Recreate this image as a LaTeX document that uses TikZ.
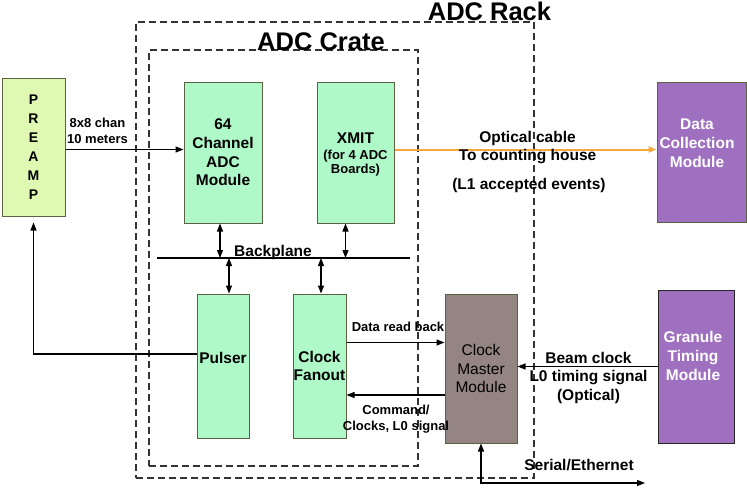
\documentclass[tikz,border=0pt]{standalone}
\usepackage{fontspec}
\setmainfont{Liberation Sans}
\usepackage{xcolor}
\usepackage{tikz}
\usetikzlibrary{positioning, arrows.meta, calc}

\definecolor{modgreen}{HTML}{AFF8C8}
\definecolor{preampfill}{HTML}{E0F9B2}
\definecolor{modpurple}{HTML}{A070C0}
\definecolor{clockgray}{HTML}{948582}
\definecolor{edgeolive}{HTML}{5A6240}
\definecolor{optorange}{HTML}{F5A840}

\begin{document}
\begin{tikzpicture}[
    x=1pt, y=-1pt,
    every node/.style={font=\fontsize{15.5}{18.7}\selectfont\bfseries, align=center, inner sep=0pt},
    block/.style={draw=edgeolive, line width=1pt, fill=#1},
    frame/.style={draw=black!80, line width=1.3pt, dash pattern=on 7pt off 4pt},
    smalltxt/.style={font=\fontsize{13}{15.5}\selectfont\bfseries},
    title/.style={font=\fontsize{25.5}{30}\selectfont\bfseries},
    arrow/.style={-{Triangle[length=8pt, width=6pt]}, line width=1.2pt},
    dblarrow/.style={{Triangle[length=8pt, width=6pt]}-{Triangle[length=8pt, width=6pt]}, line width=1.2pt},
  ]
  \useasboundingbox (0,0) rectangle (747,488);

  % ---- Rack and crate ----
  \node[frame, minimum width=398pt, minimum height=456pt] (rack) at (335,250) {};
  \node[title, anchor=base] (racklbl) at (489.5,20) {ADC Rack};
  \node[frame, minimum width=269pt, minimum height=416pt] (crate) at (283.5,258) {};
  \node[title, anchor=base] (cratelbl) at (321,50) {ADC Crate};

  % ---- Modules ----
  \node[block=preampfill, minimum width=63pt, minimum height=138pt, font=\fontsize{14}{18.9}\selectfont\bfseries] (preamp) at (33.5,147) {P\\R\\E\\A\\M\\P};
  \node[block=modgreen, minimum width=78pt, minimum height=141pt] (adc) at (223,152.5) {64\\Channel\\ADC\\Module};
  \node[block=modgreen, minimum width=77pt, minimum height=141pt] (xmit) at (355.5,152.5) {};
  \node[anchor=base] (xmitlbl) at (355.5,143.3) {XMIT};
  \node[anchor=base, font=\fontsize{13}{14.5}\selectfont\bfseries] (xmitsub) at (355.5,173.5) {(for 4 ADC\\Boards)};
  \node[block=modgreen, minimum width=52pt, minimum height=144pt] (pulser) at (223,366) {};
  \node[anchor=base] (pulserlbl) at (223,363.3) {Pulser};
  \node[block=modgreen, minimum width=53pt, minimum height=144pt] (fanout) at (319.5,366) {Clock\\Fanout};
  \node[block=clockgray, minimum width=72pt, minimum height=149pt, font=\fontsize{15.5}{18.5}\selectfont] (cmm) at (481,368.5) {Clock\\Master\\Module};
  \node[block=modpurple, minimum width=89pt, minimum height=140pt] (dcm) at (701.5,152) {};
  \node[anchor=base, text=white] (dcmlbl) at (697,167.3) {Data\\Collection\\Module};
  \node[block=modpurple, draw=black!85, minimum width=76pt, minimum height=153pt] (gtm) at (696,366.5) {};
  \node[anchor=base, text=white] (gtmlbl) at (693,380) {Granule\\Timing\\Module};

  % ---- Backplane ----
  \coordinate (bpL) at (157,258);
  \coordinate (bpR) at (410,258);
  \draw[line width=1.2pt] (bpL) -- (bpR);
  \node[anchor=base] (bplbl) at (273,256) {Backplane};
  \coordinate (bpA) at (220,258);
  \coordinate (bpX) at (345.5,258);
  \coordinate (bpP) at (229,258);
  \coordinate (bpF) at (321,258);
  \draw[dblarrow] (adc.south -| bpA) -- (bpA);
  \draw[dblarrow] (xmit.south -| bpX) -- (bpX);
  \draw[dblarrow] (bpP) -- (pulser.north -| bpP);
  \draw[dblarrow] (bpF) -- (fanout.north -| bpF);

  % ---- Connections ----
  \draw[arrow] ([yshift=-2.5pt]preamp.east) -- ([yshift=3pt]adc.west);
  \node[smalltxt, anchor=base] (chanlbl) at (97.5,143) {8x8 chan\\10 meters};

  \draw[arrow, draw=optorange, line width=2pt] ([yshift=3pt]xmit.east) -- ([yshift=2.5pt]dcm.west);
  \node[anchor=base, font=\fontsize{15.5}{17.3}\selectfont\bfseries] (optlbl) at (527.5,160) {Optical cable\\To counting house};
  \node[anchor=base] (l1lbl) at (529,189) {(L1 accepted events)};

  \draw[arrow] ([yshift=12pt]pulser.west) -| ([yshift=-6pt]preamp.south);

  \draw[arrow] ([yshift=23.5pt]fanout.east) -- ([yshift=23.5pt]fanout.east -| cmm.west);
  \node[smalltxt, anchor=base] (readlbl) at (398,331.7) {Data read back};
  \draw[arrow] ([yshift=-29pt]fanout.east -| cmm.west) -- ([yshift=-29pt]fanout.east);
  \node[smalltxt, anchor=base] (cmdlbl) at (396,430) {Command/\\Clocks, L0 signal};

  \draw[arrow] (gtm.west) -- (gtm.west -| cmm.east);
  \node[anchor=base, font=\fontsize{15.5}{18.4}\selectfont\bfseries] (beamlbl) at (588.5,400) {Beam clock\\L0 timing signal\\(Optical)};

  \coordinate (serialend) at (645,483);
  \draw[dblarrow] (cmm.south) |- (serialend);
  \node[anchor=base] (seriallbl) at (579,470.7) {Serial/Ethernet};

\end{tikzpicture}
\end{document}
